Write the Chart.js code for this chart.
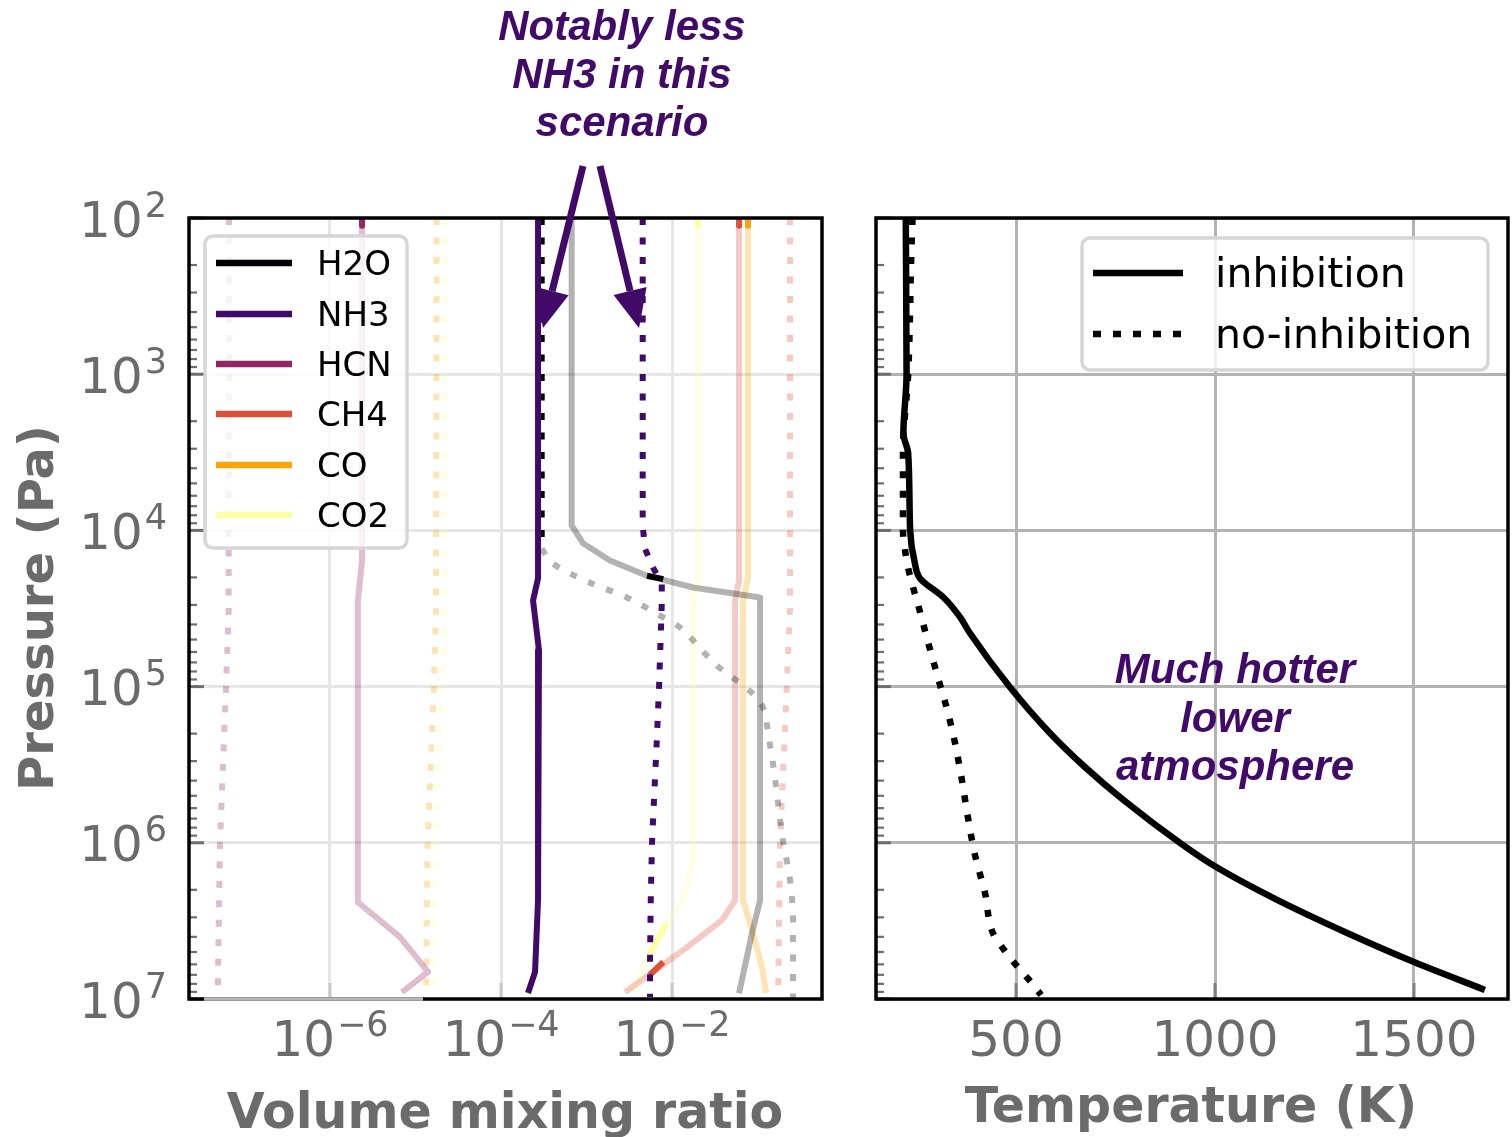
<!DOCTYPE html>
<html lang="en">
<head>
<meta charset="UTF-8">
<title>Mixing ratios and temperature profiles</title>
<script src="https://cdn.jsdelivr.net/npm/chart.js"></script>
<style>
  body { margin: 0; background: #fff; }
  #wrap { position: relative; width: 1512px; height: 1137px; }
  canvas { position: absolute; top: 0; }
</style>
</head>
<body>
<div id="wrap">
  <canvas id="vmrChart" width="850" height="1137" style="left:0"></canvas>
  <canvas id="tempChart" width="662" height="1137" style="left:850px"></canvas>
</div>
<script>
// ---- values (pressure in Pa) ----
const species = ['H2O', 'NH3', 'HCN', 'CH4', 'CO', 'CO2'];
const speciesColors = ['#000004', '#420a68', '#932667', '#dd513a', '#fca50a', '#fcffa4'];

const yTickExps = [2, 3, 4, 5, 6, 7];
const vmrTickExps = [-6, -4, -2];
const tempTicks = [500, 1000, 1500];

// inhibition (solid)
const h2oInhP = [1e2, 9.3e3, 1.21e4, 1.56e4, 1.95e4, 2.32e4, 2.69e4, 2.33e6, 3.78e6, 9.2e6];
const h2oInhV = [6.7e-4, 6.7e-4, 9.1e-4, 1.88e-3, 5.1e-3, 1.76e-2, 0.107, 0.107, 0.0863, 0.0608];
const h2oInhHiP = [1.95e4, 2.05e4];
const h2oInhHiV = [5.1e-3, 7.9e-3];
const nh3InhP = [1e2, 2.03e4, 2.81e4, 5.86e4, 2.33e6, 6.71e6, 9.16e6];
const nh3InhV = [2.71e-4, 2.71e-4, 2.37e-4, 2.78e-4, 2.71e-4, 2.5e-4, 2.07e-4];
const hcnInhP = [1e2, 1.56e4, 2.81e4, 2.4e6, 4.02e6, 6.71e6, 9.02e6];
const hcnInhV = [2.37e-6, 2.37e-6, 2.12e-6, 2.12e-6, 6.6e-6, 1.4e-5, 6.95e-6];
const ch4InhP = [1e2, 2.09e4, 2.81e4, 2.33e6, 3.13e6, 4.66e6, 6.24e6, 9.02e6];
const ch4InhV = [0.0608, 0.0608, 0.0546, 0.0546, 0.0385, 0.015, 7.24e-3, 2.82e-3];
const ch4InhHiP = [5.8e6, 7.0e6];
const ch4InhHiV = [7.9e-3, 5.5e-3];
const coInhP = [1e2, 2.0e4, 2.81e4, 2.33e6, 3.78e6, 6.24e6, 9.16e6];
const coInhV = [0.0774, 0.0774, 0.0676, 0.0676, 0.0885, 0.113, 0.126];
const co2InhP = [1e2, 2.09e4, 2.81e4, 1.35e6, 2.33e6, 3.62e6, 5.64e6, 9.16e6];
const co2InhV = [0.0201, 0.0201, 0.0176, 0.0176, 0.0131, 7.85e-3, 5.1e-3, 3.5e-3];
const co2InhHiP = [3.3e6, 5.2e6];
const co2InhHiV = [8.6e-3, 5.4e-3];
const topStubP = [1e2, 1.12e2];   // short un-faded piece at the top edge

// no-inhibition (dotted)
const h2oNoTopP = [1e2, 1.31e4];
const h2oNoTopV = [2.99e-4, 2.99e-4];
const h2oNoP = [1.31e4, 1.63e4, 2.16e4, 2.69e4, 3.51e4, 4.06e4, 6.14e4, 7.43e4, 1.07e5, 1.36e5, 1.77e5, 2.38e5, 3.14e5, 9.77e5, 1.73e6, 3.13e6, 1e7];
const h2oNoV = [2.99e-4, 4.05e-4, 1.1e-3, 2.98e-3, 7.24e-3, 1.15e-2, 2.43e-2, 3.45e-2, 8.17e-2, 0.116, 0.129, 0.14, 0.152, 0.199, 0.24, 0.26, 0.26];
const nh3NoP = [1e2, 9.3e3, 1.31e4, 1.73e4, 2.19e4, 2.94e4, 1.01e5, 2.28e5, 5.35e5, 1.01e6, 2.33e6, 5.64e6, 9.7e6];
const nh3NoV = [4.54e-3, 4.54e-3, 4.83e-3, 6.0e-3, 7.59e-3, 7.59e-3, 7.05e-3, 6.62e-3, 6.15e-3, 5.83e-3, 5.64e-3, 5.53e-3, 5.53e-3];
const hcnNoP = [1e2, 3.18e4, 1.02e5, 1.02e6, 1e7];
const hcnNoV = [6.59e-8, 6.53e-8, 6.08e-8, 5.16e-8, 4.86e-8];
const ch4NoP = [1e2, 3.12e4, 1.82e5, 1.01e6, 1e7];
const ch4NoV = [0.24, 0.24, 0.21, 0.183, 0.174];
const coNoP = [1e2, 3.18e4, 1.02e5, 1.02e6, 1e7];
const coNoV = [1.77e-5, 1.74e-5, 1.64e-5, 1.38e-5, 1.33e-5];
const co2NoP = [1e2, 3.18e4, 1.02e5, 1.02e6, 1e7];
const co2NoV = [2.21e-5, 2.21e-5, 2.04e-5, 1.69e-5, 1.64e-5];

// temperature profiles
const tInhP = [1e2, 1.0e3, 2.4e3, 3.2e3, 1.0e4, 1.63e4, 2.03e4, 2.69e4, 3.58e4, 4.54e4, 1.01e5, 1.98e5, 3.27e5, 5.32e5, 1.0e6, 1.43e6, 2.32e6, 3.78e6, 5.8e6, 8.75e6];
const tInhT = [223, 225, 217, 229, 234, 246, 259, 318, 359, 384, 485, 585, 673, 770, 912, 1003, 1156, 1332, 1500, 1678];
const tNoP = [1e2, 1.68e2, 1e3, 3.2e3, 1e4, 1.33e4, 1.74e4, 2.3e4, 3.0e4, 5.42e4, 9.35e4, 1.26e5, 2.13e5, 3.96e5, 6.84e5, 1.2e6, 2.09e6, 3.78e6, 4.85e6, 6.05e6, 7.55e6, 9.42e6];
const tNoT = [240, 237, 229, 216, 216, 221, 229, 241, 254, 281, 307, 322, 344, 364, 379, 397, 422, 442, 470, 500, 533, 563];

// ---- styling helpers ----
const TXT = '#6b6b6b';
const DOT = [7, 12.5];
const PURPLE = '#420a68';

function fade(hex, a) {
    const n = parseInt(hex.slice(1), 16);
    return `rgba(${(n >> 16) & 255}, ${(n >> 8) & 255}, ${n & 255}, ${a})`;
}

function line(P, V, color, dotted, width) {
    return {
        data: V.map((v, i) => ({ x: v, y: P[i] })),
        borderColor: color,
        borderWidth: width || 6,
        borderDash: dotted ? DOT : [],
        borderCapStyle: 'butt',
        borderJoinStyle: 'round',
        pointRadius: 0,
        tension: 0,
        fill: false
    };
}

function smooth(ds) {
    ds.cubicInterpolationMode = 'monotone';
    ds.indexAxis = 'y';
    return ds;
}

function drawPow(ctx, exp, x, baseline, align) {
    const es = exp < 0 ? '\u2212' + (-exp) : String(exp);
    ctx.font = '50px "DejaVu Sans"';
    const wb = ctx.measureText('10').width;
    ctx.font = '35px "DejaVu Sans"';
    const we = ctx.measureText(es).width;
    const x0 = align === 'right' ? x - wb - we - 2 : x - (wb + we + 2) / 2;
    ctx.textAlign = 'left';
    ctx.textBaseline = 'alphabetic';
    ctx.fillStyle = TXT;
    ctx.font = '50px "DejaVu Sans"';
    ctx.fillText('10', x0, baseline);
    ctx.font = '35px "DejaVu Sans"';
    ctx.fillText(es, x0 + wb + 2, baseline - 20);
}

function yMinorTicks(ctx, chart) {
    const a = chart.chartArea, y = chart.scales.y;
    ctx.strokeStyle = '#6e6e6e';
    for (const e of yTickExps) {
        for (let k = 1; k <= 9; k++) {
            const v = k * Math.pow(10, e);
            if (v > 1e7) break;
            const py = y.getPixelForValue(v);
            ctx.lineWidth = k === 1 ? 3 : 2.2;
            ctx.beginPath();
            ctx.moveTo(a.left, py);
            ctx.lineTo(a.left + (k === 1 ? 15 : 8), py);
            ctx.stroke();
        }
    }
}

function frame(ctx, a) {
    ctx.strokeStyle = '#000';
    ctx.lineWidth = 3.5;
    ctx.strokeRect(a.left, a.top, a.right - a.left, a.bottom - a.top);
}

function legendBox(ctx, x, y, w, h) {
    ctx.beginPath();
    ctx.roundRect(x, y, w, h, 8);
    ctx.fillStyle = 'rgba(255,255,255,0.8)';
    ctx.fill();
    ctx.strokeStyle = '#d6d6d6';
    ctx.lineWidth = 3.5;
    ctx.stroke();
}

function arrow(ctx, x0, y0, x1, y1) {
    const dx = x1 - x0, dy = y1 - y0, L = Math.hypot(dx, dy);
    const ux = dx / L, uy = dy / L, hl = 38, hw = 17;
    const bx = x1 - ux * hl, by = y1 - uy * hl;
    ctx.strokeStyle = PURPLE;
    ctx.fillStyle = PURPLE;
    ctx.lineWidth = 7;
    ctx.beginPath();
    ctx.moveTo(x0, y0);
    ctx.lineTo(bx, by);
    ctx.stroke();
    ctx.beginPath();
    ctx.moveTo(x1, y1);
    ctx.lineTo(bx - uy * hw, by + ux * hw);
    ctx.lineTo(bx + uy * hw, by - ux * hw);
    ctx.closePath();
    ctx.fill();
}

function logAxis(values, extra) {
    return Object.assign({
        type: 'logarithmic',
        bounds: 'data',
        afterBuildTicks: s => { s.ticks = values.map(v => ({ value: v })); },
        ticks: { display: false },
        border: { display: false }
    }, extra);
}

// ---- left panel: volume mixing ratio ----
const vmrDecor = {
    id: 'vmrDecor',
    afterDraw(chart) {
        const ctx = chart.ctx, a = chart.chartArea, x = chart.scales.x, y = chart.scales.y;
        ctx.save();
        yMinorTicks(ctx, chart);
        ctx.strokeStyle = '#c8c8c8';
        ctx.lineWidth = 3;
        for (const e of vmrTickExps) {
            const px = x.getPixelForValue(Math.pow(10, e));
            ctx.beginPath();
            ctx.moveTo(px, a.bottom);
            ctx.lineTo(px, a.bottom - 16);
            ctx.stroke();
        }
        frame(ctx, a);
        // washed-out stretch of the bottom spine
        ctx.strokeStyle = '#b8b8b8';
        ctx.lineWidth = 3.5;
        ctx.beginPath();
        ctx.moveTo(204, a.bottom);
        ctx.lineTo(423, a.bottom);
        ctx.stroke();

        for (const e of yTickExps) drawPow(ctx, e, 167, y.getPixelForValue(Math.pow(10, e)) + 18.5, 'right');
        for (const e of vmrTickExps) drawPow(ctx, e, x.getPixelForValue(Math.pow(10, e)), 1056, 'center');

        ctx.fillStyle = TXT;
        ctx.font = 'bold 49px "DejaVu Sans"';
        ctx.textAlign = 'center';
        ctx.textBaseline = 'alphabetic';
        ctx.fillText('Volume mixing ratio', 505, 1128);
        ctx.save();
        ctx.translate(53, 608);
        ctx.rotate(-Math.PI / 2);
        ctx.font = 'bold 48px "DejaVu Sans"';
        ctx.fillText('Pressure (Pa)', 0, 0);
        ctx.restore();

        // legend
        legendBox(ctx, 205, 236, 202, 312);
        const rows = [263, 314, 364, 414, 465, 515];
        ctx.font = '34px "DejaVu Sans"';
        ctx.textAlign = 'left';
        species.forEach((s, i) => {
            ctx.strokeStyle = speciesColors[i];
            ctx.lineWidth = 6.5;
            ctx.beginPath();
            ctx.moveTo(216, rows[i]);
            ctx.lineTo(292, rows[i]);
            ctx.stroke();
            ctx.fillStyle = '#000';
            ctx.fillText(s, 317, rows[i] + 12.4);
        });

        // annotation
        ctx.fillStyle = PURPLE;
        ctx.font = 'italic bold 42px "Liberation Sans"';
        ctx.textAlign = 'center';
        ['Notably less', 'NH3 in this', 'scenario'].forEach((t, i) => ctx.fillText(t, 622, 40 + i * 48));
        arrow(ctx, 583, 166, 543, 328);
        arrow(ctx, 600, 166, 639, 328);
        ctx.restore();
    }
};

new Chart(document.getElementById('vmrChart'), {
    type: 'line',
    data: {
        datasets: [
            line(nh3NoP, nh3NoV, speciesColors[1], true),
            line(nh3InhP, nh3InhV, speciesColors[1], false),
            line(h2oNoTopP, h2oNoTopV, speciesColors[0], true),
            line(h2oInhHiP, h2oInhHiV, speciesColors[0], false),
            line(ch4InhHiP, ch4InhHiV, speciesColors[3], false),
            line(co2InhHiP, co2InhHiV, speciesColors[5], false),
            line(topStubP, [hcnInhV[0], hcnInhV[0]], speciesColors[2], false),
            line(topStubP, [ch4InhV[0], ch4InhV[0]], speciesColors[3], false),
            line(topStubP, [coInhV[0], coInhV[0]], speciesColors[4], false),
            line(topStubP, [co2InhV[0], co2InhV[0]], speciesColors[5], false),
            line(h2oInhP, h2oInhV, fade(speciesColors[0], 0.3), false),
            smooth(line(h2oNoP, h2oNoV, fade(speciesColors[0], 0.3), true)),
            line(hcnInhP, hcnInhV, fade(speciesColors[2], 0.3), false),
            line(hcnNoP, hcnNoV, fade(speciesColors[2], 0.3), true),
            line(ch4InhP, ch4InhV, fade(speciesColors[3], 0.3), false),
            line(ch4NoP, ch4NoV, fade(speciesColors[3], 0.3), true),
            line(coInhP, coInhV, fade(speciesColors[4], 0.3), false),
            line(coNoP, coNoV, fade(speciesColors[4], 0.3), true),
            line(co2InhP, co2InhV, fade(speciesColors[5], 0.3), false),
            line(co2NoP, co2NoV, fade(speciesColors[5], 0.3), true)
        ]
    },
    options: {
        responsive: false,
        animation: false,
        events: [],
        layout: { padding: { left: 189, right: 28, top: 218, bottom: 138 } },
        plugins: { legend: { display: false }, tooltip: { enabled: false } },
        scales: {
            x: logAxis(vmrTickExps.map(e => Math.pow(10, e)), {
                min: 2.244e-8, max: 0.5675,
                grid: { color: '#e6e6e6', lineWidth: 3, drawTicks: false },
                afterFit: s => { s.height = 0; }
            }),
            y: logAxis(yTickExps.map(e => Math.pow(10, e)), {
                reverse: true, min: 1e2, max: 1e7,
                grid: { color: '#e6e6e6', lineWidth: 3, drawTicks: false },
                afterFit: s => { s.width = 0; }
            })
        }
    },
    plugins: [vmrDecor]
});

// ---- right panel: temperature ----
const tempDecor = {
    id: 'tempDecor',
    afterDraw(chart) {
        const ctx = chart.ctx, a = chart.chartArea, x = chart.scales.x;
        ctx.save();
        yMinorTicks(ctx, chart);
        ctx.strokeStyle = '#808080';
        ctx.lineWidth = 3;
        for (const t of tempTicks) {
            const px = x.getPixelForValue(t);
            ctx.beginPath();
            ctx.moveTo(px, a.bottom);
            ctx.lineTo(px, a.bottom - 16);
            ctx.stroke();
        }
        frame(ctx, a);

        ctx.fillStyle = TXT;
        ctx.font = '50px "DejaVu Sans"';
        ctx.textAlign = 'center';
        ctx.textBaseline = 'alphabetic';
        for (const t of tempTicks) ctx.fillText(String(t), x.getPixelForValue(t), 1056);
        ctx.font = 'bold 49px "DejaVu Sans"';
        ctx.fillText('Temperature (K)', 341, 1122);

        // legend
        legendBox(ctx, 232, 238, 406, 132);
        const rows = [273, 334];
        const labels = ['inhibition', 'no-inhibition'];
        ctx.font = '41px "DejaVu Sans"';
        ctx.textAlign = 'left';
        labels.forEach((s, i) => {
            ctx.strokeStyle = '#000';
            ctx.lineWidth = 6.5;
            ctx.setLineDash(i === 1 ? [8, 12] : []);
            ctx.beginPath();
            ctx.moveTo(243, rows[i]);
            ctx.lineTo(333, rows[i]);
            ctx.stroke();
            ctx.setLineDash([]);
            ctx.fillStyle = '#000';
            ctx.fillText(s, 365, rows[i] + 13.5);
        });

        ctx.fillStyle = PURPLE;
        ctx.font = 'italic bold 42px "Liberation Sans"';
        ctx.textAlign = 'center';
        ['Much hotter', 'lower', 'atmosphere'].forEach((t, i) => ctx.fillText(t, 385, 683 + i * 48.5));
        ctx.restore();
    }
};

function tLine(P, T, dotted) {
    const ds = line(P, T, '#000', dotted, 6.5);
    ds.data = T.map((t, i) => ({ x: t, y: P[i] }));
    return smooth(ds);
}

new Chart(document.getElementById('tempChart'), {
    type: 'line',
    data: {
        datasets: [
            tLine(tInhP, tInhT, false),
            tLine(tNoP, tNoT, true)
        ]
    },
    options: {
        responsive: false,
        animation: false,
        events: [],
        layout: { padding: { left: 26, right: 4, top: 218, bottom: 138 } },
        plugins: { legend: { display: false }, tooltip: { enabled: false } },
        scales: {
            x: {
                type: 'linear',
                bounds: 'data',
                min: 148.2, max: 1736.2,
                afterBuildTicks: s => { s.ticks = tempTicks.map(v => ({ value: v })); },
                ticks: { display: false },
                border: { display: false },
                grid: { color: '#b3b3b3', lineWidth: 3, drawTicks: false },
                afterFit: s => { s.height = 0; }
            },
            y: logAxis(yTickExps.map(e => Math.pow(10, e)), {
                reverse: true, min: 1e2, max: 1e7,
                grid: { color: '#b3b3b3', lineWidth: 3, drawTicks: false },
                afterFit: s => { s.width = 0; }
            })
        }
    },
    plugins: [tempDecor]
});
</script>
</body>
</html>
